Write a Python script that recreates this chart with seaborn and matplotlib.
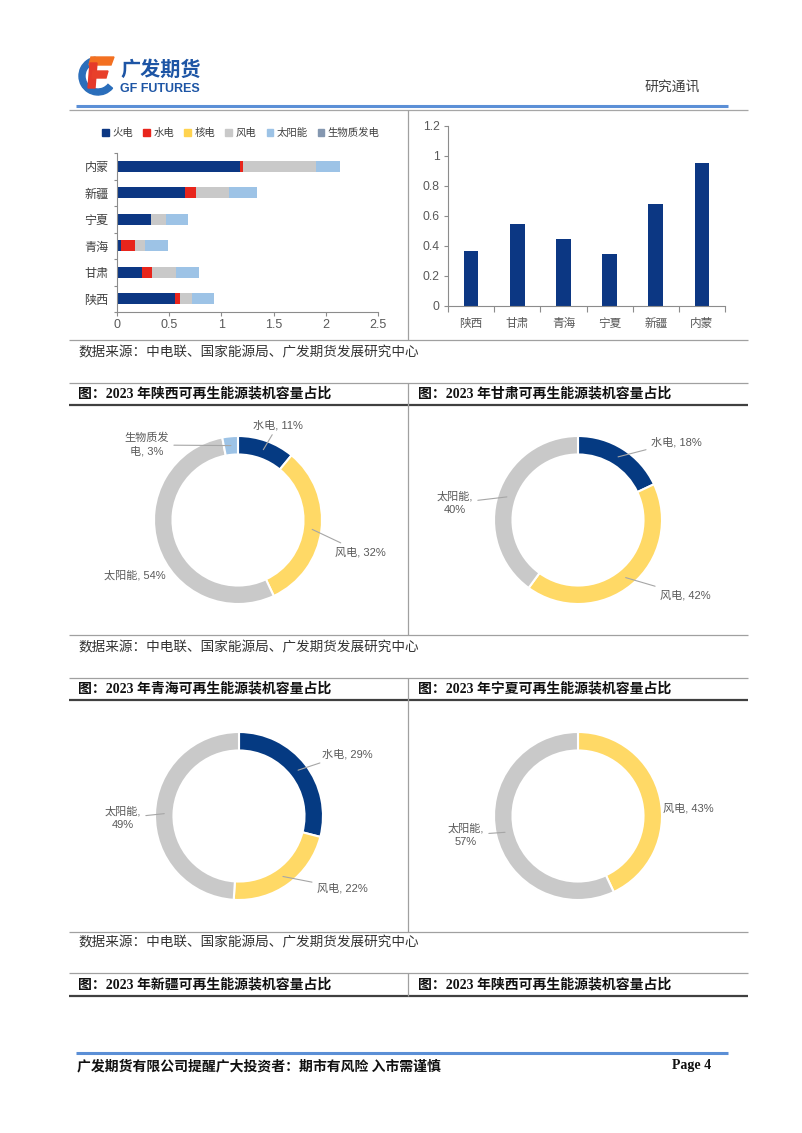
import numpy as np
import matplotlib
matplotlib.use("Agg")
import matplotlib.pyplot as plt
import seaborn as sns
from matplotlib.patches import Patch, Wedge, Polygon
from matplotlib.ticker import FuncFormatter, FixedLocator

# provinces (order of the right-hand bar chart)
provinces = ["陕西", "甘肃", "青海", "宁夏", "新疆", "内蒙"]

# installed capacity by source, same province order (left stacked chart)
sources = ["火电", "水电", "核电", "风电", "太阳能", "生物质发电"]
thermal = [0.557, 0.236, 0.041, 0.328, 0.656, 1.178]
hydro = [0.042, 0.102, 0.134, 0.0, 0.105, 0.026]
nuclear = [0, 0, 0, 0, 0, 0]
wind = [0.118, 0.229, 0.089, 0.143, 0.312, 0.700]
solar = [0.210, 0.223, 0.220, 0.207, 0.265, 0.230]
biomass = [0, 0, 0, 0, 0, 0]

# right-hand bar chart
ratio = [0.366, 0.548, 0.450, 0.346, 0.677, 0.954]

# donut shares (%)
shaanxi_names = ["水电", "风电", "太阳能", "生物质发电"]
shaanxi_pct = [11, 32, 54, 3]
gansu_names = ["水电", "风电", "太阳能"]
gansu_pct = [18, 42, 40]
qinghai_names = ["水电", "风电", "太阳能"]
qinghai_pct = [29, 22, 49]
ningxia_names = ["风电", "太阳能"]
ningxia_pct = [43, 57]

source_line = "数据来源：中电联、国家能源局、广发期货发展研究中心"
titles = [
    ("图：2023 年陕西可再生能源装机容量占比", "图：2023 年甘肃可再生能源装机容量占比"),
    ("图：2023 年青海可再生能源装机容量占比", "图：2023 年宁夏可再生能源装机容量占比"),
    ("图：2023 年新疆可再生能源装机容量占比", "图：2023 年陕西可再生能源装机容量占比"),
]

bar_colors = {"火电": "#0c3783", "水电": "#e8251c", "核电": "#ffd34f",
              "风电": "#c9c9c9", "太阳能": "#9dc3e6", "生物质发电": "#8497b0"}
donut_colors = {"水电": "#053a82", "风电": "#ffd966", "太阳能": "#c9c9c9",
                "生物质发电": "#9dc3e6"}

sns.set_theme(style="white")
plt.rcParams["font.family"] = ["Liberation Sans", "Noto Sans CJK SC"]

W, H = 802, 1133
fig = plt.figure(figsize=(W / 100, H / 100), dpi=100)

SANS = ["Liberation Sans", "Noto Sans CJK SC"]
SERIF = ["Liberation Serif", "Noto Sans CJK SC"]
CJK = ["Noto Sans CJK SC", "DejaVu Sans"]


def px_ax(x0, y0, x1, y1):
    return fig.add_axes([x0 / W, 1 - y1 / H, (x1 - x0) / W, (y1 - y0) / H])


# page background layer in pixel coordinates
bg = fig.add_axes([0, 0, 1, 1])
bg.set_xlim(0, W)
bg.set_ylim(H, 0)
bg.axis("off")


def hline(y, x0=69, x1=748, color="#a0a0a0", lw=0.9):
    bg.plot([x0, x1], [y, y], color=color, lw=lw, solid_capstyle="butt")


def vline(x, y0, y1, color="#a0a0a0", lw=0.9):
    bg.plot([x, x], [y0, y1], color=color, lw=lw, solid_capstyle="butt")


# logo
bg.add_patch(Wedge((98, 76), 19, 40, 262, width=6, color="#2a6ebb"))
bg.add_patch(Polygon([(91, 57), (114, 57), (111, 65), (89, 65)], color="#f37021"))
bg.add_patch(Polygon([(90, 63), (97, 63), (95, 88), (88, 88)], color="#e53a2a"))
bg.add_patch(Polygon([(93, 71), (108, 71), (106, 78), (92, 78)], color="#e8402a"))
bg.text(120, 69, "广发期货", fontsize=14.5, fontweight="bold", color="#1d55a5",
        family=CJK, va="center", ha="left")
bg.text(120, 89.5, "GF FUTURES", fontsize=9, fontweight="bold", color="#1d55a5",
        family=SANS, va="center", ha="left")
bg.text(672, 87, "研究通讯", fontsize=10, color="#404040", family=CJK,
        va="center", ha="center")

# header rules
hline(106, 76, 728, color="#5b8fd6", lw=2.2)
hline(109.5, 69, 748, color="#a6a6a6", lw=0.9)
vline(408, 110, 340)

# section rules, titles and source lines
for k, (top, src_y, t0, t1, vend) in enumerate([
        (340, 352, 383, 405, 635),
        (635, 647, 678, 700, 932),
        (932, 942, 973, 996, 996)]):
    hline(top)
    bg.text(78, src_y, source_line, fontsize=9.8, color="#333333", family=CJK,
            va="center", ha="left")
    hline(t0, color="#a0a0a0", lw=0.9)
    hline(t1, color="#404040", lw=1.6)
    vline(408, t0, vend)
    left_t, right_t = titles[k]
    bg.text(78, (t0 + t1) / 2, left_t, fontsize=10, fontweight="bold",
            color="#111111", family=SERIF, va="center", ha="left")
    bg.text(418, (t0 + t1) / 2, right_t, fontsize=10, fontweight="bold",
            color="#111111", family=SERIF, va="center", ha="left")

# footer
hline(1053, 76, 728, color="#5b8fd6", lw=2.2)
bg.text(77, 1066, "广发期货有限公司提醒广大投资者：期市有风险 入市需谨慎", fontsize=10,
        fontweight="bold", color="#111111", family=CJK, va="center", ha="left")
bg.text(672, 1066, "Page 4", fontsize=10, fontweight="bold", color="#111111",
        family=SERIF, va="center", ha="left")

axis_grey = "#8c8c8c"
label_grey = "#595959"

# ---- left: stacked horizontal bars
ax1 = px_ax(117, 153, 378, 312)
order = provinces[::-1]
layers = [thermal, hydro, nuclear, wind, solar, biomass]
cum = np.cumsum(np.array(layers, dtype=float), axis=0)
for i in range(len(sources) - 1, -1, -1):
    if not any(layers[i]):
        continue
    sns.barplot(x=cum[i], y=provinces, order=order, orient="h",
                color=bar_colors[sources[i]], width=0.4, saturation=1,
                linewidth=0, errorbar=None, ax=ax1)
ax1.set_xlim(0, 2.5)
ax1.set_ylim(5.5, -0.5)
ax1.set_xticks(np.arange(0, 2.51, 0.5))
ax1.xaxis.set_major_formatter(FuncFormatter(lambda v, p: f"{v:g}"))
ax1.yaxis.set_minor_locator(FixedLocator(np.arange(-0.5, 6, 1)))
ax1.set_xlabel("")
ax1.set_ylabel("")
for s in ["top", "right"]:
    ax1.spines[s].set_visible(False)
for s in ["left", "bottom"]:
    ax1.spines[s].set_color(axis_grey)
    ax1.spines[s].set_linewidth(0.8)
ax1.tick_params(axis="x", length=3, width=0.8, color=axis_grey, labelsize=9,
                labelcolor=label_grey, pad=2, bottom=True)
ax1.tick_params(axis="y", which="major", length=0, labelsize=8.7,
                labelcolor="#404040", pad=6)
ax1.tick_params(axis="y", which="minor", length=2, width=0.8, color=axis_grey,
                left=True)
for lab in ax1.get_yticklabels():
    lab.set_family(CJK)

handles = [Patch(color=bar_colors[s]) for s in sources]
fig.legend(handles, sources, ncol=6, loc="center",
           bbox_to_anchor=(241 / W, 1 - 133 / H), frameon=False,
           handlelength=0.6, handleheight=0.6, handletextpad=0.35,
           columnspacing=1.0, labelcolor="#404040", prop={"family": CJK, "size": 7.5})

# ---- right: single bars
ax2 = px_ax(448, 126, 725, 306)
sns.barplot(x=provinces, y=ratio, order=provinces, color="#0c3783", width=0.32,
            saturation=1, linewidth=0, errorbar=None, ax=ax2)
ax2.set_ylim(0, 1.2)
ax2.set_xlim(-0.5, 5.5)
ax2.set_yticks(np.arange(0, 1.21, 0.2))
ax2.yaxis.set_major_formatter(FuncFormatter(lambda v, p: f"{round(v, 1):g}"))
ax2.xaxis.set_minor_locator(FixedLocator(np.arange(-0.5, 6, 1)))
ax2.set_xlabel("")
ax2.set_ylabel("")
for s in ["top", "right"]:
    ax2.spines[s].set_visible(False)
for s in ["left", "bottom"]:
    ax2.spines[s].set_color(axis_grey)
    ax2.spines[s].set_linewidth(0.8)
ax2.tick_params(axis="y", length=3, width=0.8, color=axis_grey, labelsize=8.7,
                labelcolor=label_grey, pad=3, left=True)
ax2.tick_params(axis="x", which="major", length=0, labelsize=8.4,
                labelcolor=label_grey, pad=8)
ax2.tick_params(axis="x", which="minor", length=4, width=0.8, color=axis_grey,
                bottom=True)
for lab in ax2.get_xticklabels():
    lab.set_family(CJK)


# ---- donuts
def donut(cx, cy, names, pct, layout):
    R = 84
    ax = px_ax(cx - 165, cy - 113, cx + 165, cy + 113)
    ax.pie(pct, colors=[donut_colors[n] for n in names], startangle=90,
           counterclock=False, radius=1,
           wedgeprops=dict(width=0.22, edgecolor="white", linewidth=1.5))
    ax.set_xlim(-165 / R, 165 / R)
    ax.set_ylim(-113 / R, 113 / R)
    ax.axis("off")
    total = sum(pct)
    start = 0
    for name, p in zip(names, pct):
        mid = start + p / 2
        start += p
        th = np.deg2rad(90 - 360 * mid / total)
        anchor = (0.89 * np.cos(th), 0.89 * np.sin(th))
        dx, dy, leader, brk = layout[name]
        s = f"{name}, {p}%"
        if brk:
            s = s[:brk] + "\n" + s[brk:].lstrip()
        pos = (dx / R, -dy / R)
        kw = dict(ha="center", va="center", fontsize=8, color=label_grey,
                  family=SANS, linespacing=1.35)
        if leader:
            ax.annotate(s, xy=anchor, xytext=pos,
                        arrowprops=dict(arrowstyle="-", color="#a6a6a6", lw=0.8,
                                        shrinkA=1, shrinkB=0), **kw)
        else:
            ax.text(pos[0], pos[1], s, **kw)


donut(238, 520, shaanxi_names, shaanxi_pct, {
    "水电": (40, -95, True, 0), "风电": (122, 32, True, 0),
    "太阳能": (-103, 55, False, 0), "生物质发电": (-91, -75, True, 4)})
donut(578, 520, gansu_names, gansu_pct, {
    "水电": (98, -78, True, 0), "风电": (107, 75, True, 0),
    "太阳能": (-123, -17, True, 4)})
donut(239, 816, qinghai_names, qinghai_pct, {
    "水电": (108, -62, True, 0), "风电": (103, 72, True, 0),
    "太阳能": (-116, 2, True, 4)})
donut(578, 816, ningxia_names, ningxia_pct, {
    "风电": (110, -8, False, 0), "太阳能": (-112, 19, True, 4)})

fig.savefig("out.png", dpi=100)
